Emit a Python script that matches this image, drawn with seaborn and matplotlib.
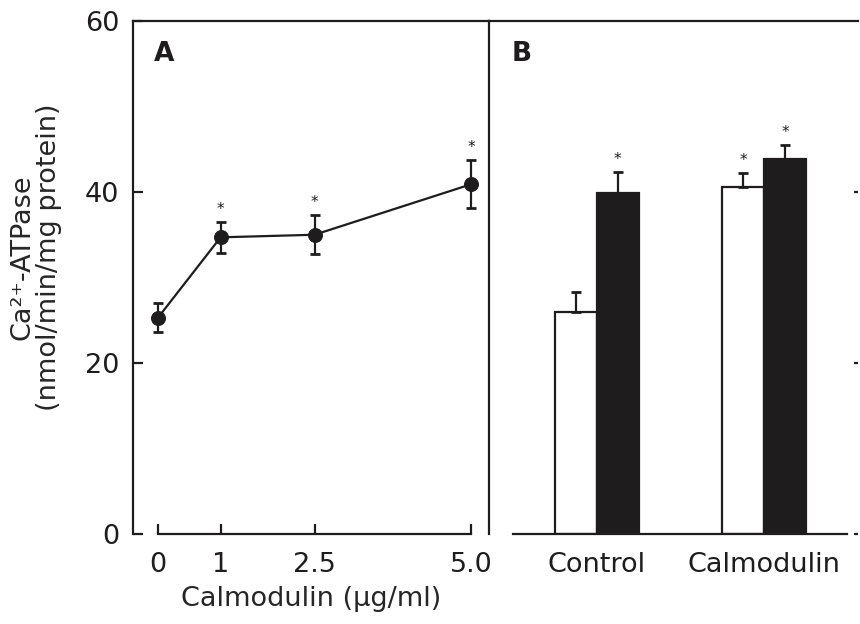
import numpy as np
import pandas as pd
import matplotlib
matplotlib.use("Agg")
import matplotlib.pyplot as plt
from matplotlib.ticker import FixedLocator
import seaborn as sns

# ---- data ----
conc = [0, 1, 2.5, 5.0]
conc_labels = ["0", "1", "2.5", "5.0"]
atpase_a = [25.3, 34.7, 35.0, 40.9]
err_a = [1.7, 1.8, 2.3, 2.8]
sig_a = [False, True, True, True]

groups = ["Control", "Calmodulin"]
conditions = ["open", "filled"]
atpase_b_open = [26.0, 40.6]
atpase_b_filled = [39.9, 43.9]
err_b_open = [2.3, 1.6]
err_b_filled = [2.4, 1.6]
sig_b_open = [False, True]
sig_b_filled = [True, True]

sns.set_style("ticks")
plt.rcParams['font.family'] = ['DejaVu Sans']
ink = '#1e1c1d'
plt.rcParams['axes.edgecolor'] = ink
plt.rcParams['text.color'] = ink
plt.rcParams['xtick.color'] = ink
plt.rcParams['ytick.color'] = ink

W, H = 860, 624
fig = plt.figure(figsize=(W / 100, H / 100), dpi=100)
y0px, y60px = 534, 21
ax1 = fig.add_axes([133 / W, (H - y0px) / H, (489 - 133) / W, (y0px - y60px) / H])
ax2 = fig.add_axes([489 / W, (H - y0px) / H, (858 - 489) / W, (y0px - y60px) / H])

fs = 19.5
lw = 1.6

# ---- panel A ----
dfa = pd.DataFrame({"conc": conc, "atpase": atpase_a})
sns.lineplot(data=dfa, x="conc", y="atpase", ax=ax1, color=ink, lw=1.6,
             marker="o", markersize=10, markeredgecolor=ink, zorder=3)
ax1.errorbar(conc, atpase_a, yerr=err_a, fmt="none", ecolor=ink,
             elinewidth=1.6, capsize=3.5, capthick=2, zorder=2)
for x, y, e, s in zip(conc, atpase_a, err_a, sig_a):
    if s:
        ax1.text(x, y + e + 0.6, "*", ha="center", va="bottom", fontsize=11)

pxu = (471 - 158) / 5.0
ax1.set_xlim(-(158 - 133) / pxu, 5.0 + (489 - 471) / pxu)
ax1.set_ylim(0, 60)
ax1.set_xticks(conc)
ax1.set_xticklabels(conc_labels)
ax1.set_yticks([0, 20, 40, 60])
ax1.spines['bottom'].set_bounds(0, 5.0)
ax1.spines['right'].set_visible(False)
for sp in ax1.spines.values():
    sp.set_linewidth(lw)
ax1.tick_params(axis='x', direction='in', length=7, width=lw, pad=13, labelsize=fs)
ax1.tick_params(axis='y', direction='in', length=7, width=lw, pad=10, labelsize=fs)
ax1.set_xlabel("Calmodulin (μg/ml)", fontsize=fs, labelpad=6)
ax1.set_ylabel("Ca²⁺-ATPase\n(nmol/min/mg protein)", fontsize=fs,
               linespacing=1.0)
ax1.yaxis.set_label_coords(-0.2, 0.54)
ax1.text(0.06, 0.935, "A", transform=ax1.transAxes, fontsize=19, fontweight='bold',
         va='center', ha='left')

# ---- panel B ----
dfb = pd.DataFrame({
    "group": groups * 2,
    "condition": [conditions[0]] * 2 + [conditions[1]] * 2,
    "atpase": atpase_b_open + atpase_b_filled,
})
sns.barplot(data=dfb, x="group", y="atpase", hue="condition", order=groups,
            hue_order=conditions, palette=["white", ink], width=0.5,
            edgecolor=ink, linewidth=1.6, errorbar=None, legend=False, ax=ax2)

errs = err_b_open + err_b_filled
sigs = sig_b_open + sig_b_filled
vals = atpase_b_open + atpase_b_filled
bars = [p for p in ax2.patches if p.get_height() > 0]
bars = sorted(bars, key=lambda p: p.get_x())
order_idx = [0, 2, 1, 3]
for p, i in zip(bars, order_idx):
    xc = p.get_x() + p.get_width() / 2
    ax2.errorbar([xc], [vals[i]], yerr=[[0], [errs[i]]], fmt="none", ecolor=ink,
                 elinewidth=1.6, capsize=3.5, capthick=2, zorder=1)
    if sigs[i]:
        ax2.text(xc, vals[i] + errs[i] + 0.6, "*", ha="center", va="bottom", fontsize=11)

pxb = 764 - 597
ax2.set_xlim(-(597 - 489) / pxb, 1 + (858 - 764) / pxb)
ax2.set_ylim(0, 60)
ax2.spines['bottom'].set_bounds(-(597 - 513) / pxb, 1 + (847 - 764) / pxb)
ax2.spines['right'].set_visible(False)
for sp in ax2.spines.values():
    sp.set_linewidth(lw)
ax2.set_xlabel("")
ax2.set_ylabel("")
ax2.tick_params(axis='x', length=0, pad=13, labelsize=fs)
ax2.set_yticks([0, 20, 40])
ax2.yaxis.set_minor_locator(FixedLocator([0]))
ax2.tick_params(axis='y', which='major', left=False, right=True, labelleft=False,
                labelright=False, direction='in', length=3, width=lw)
ax2.tick_params(axis='y', which='minor', left=True, right=False, labelleft=False,
                direction='inout', length=14, width=lw)
ax2.text(0.06, 0.935, "B", transform=ax2.transAxes, fontsize=19, fontweight='bold',
         va='center', ha='left')

fig.savefig("out.png", dpi=100)
